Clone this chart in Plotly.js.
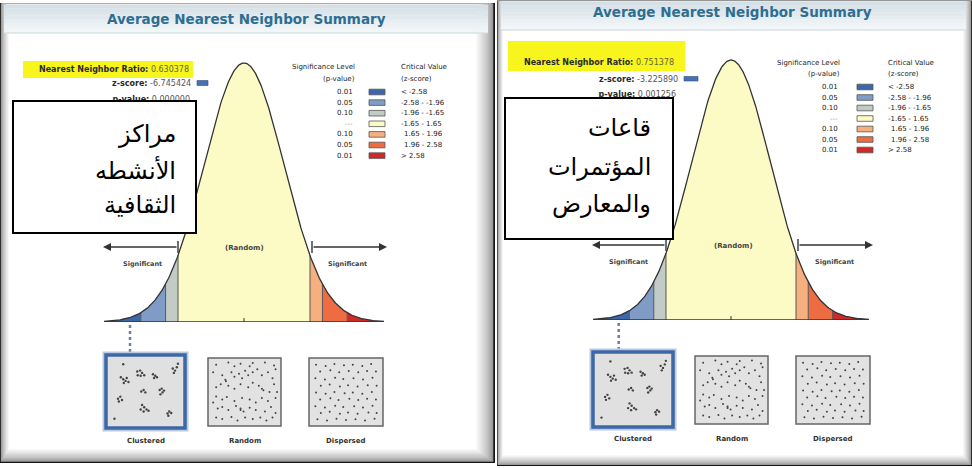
<!DOCTYPE html>
<html><head><meta charset="utf-8">
<script src="https://cdn.plot.ly/plotly-3.0.1.min.js"></script>
<style>html,body{margin:0;padding:0;background:#fff}#chart{width:972px;height:468px}</style>
</head><body><div id="chart"></div>
<script>
// ================= DATA =================
const chartTitle = 'Average Nearest Neighbor Summary';
const panelNames = [['مراكز','الأنشطه','الثقافية'], ['قاعات','المؤتمرات','والمعارض']];
const nnRatio = ['0.630378', '0.751378'];
const zScore = ['-6.745424', '-3.225890'];
const pValue = ['0.000000', '0.001256'];
const criticalValues = [-2.58, -1.96, -1.65, 1.65, 1.96, 2.58];
const sigLevels = ['0.01', '0.05', '0.10', '---', '0.10', '0.05', '0.01'];
const zRangeLabels = ['< -2.58', '-2.58 - -1.96', '-1.96 - -1.65', '-1.65 - 1.65', '1.65 - 1.96', '1.96 - 2.58', '> 2.58'];
const patternLabels = ['Clustered', 'Random', 'Dispersed'];
// point-pattern icons (0-100 inside each box)
const clusteredX = [14.3,17.7,21.1,22.8,18.6,25.3, 38,42.2,45.1,38.8,43,48.1, 60.8,64.1,66.7,62.4, 89.5,92.8,91.1,95.4, 43.9,47.3,49.8, 70.5,73.4,74.7,71.7,76.8, 10.1,13.5,16,11.4, 45.1,48.1,51.5,47.3,54.4,43, 81.9,84.4,87.3,83.1, 17.7,97,5];
const clusteredY = [27.3,30.5,33.2,28.6,36.4,35, 18.2,16.8,20.5,24.1,25,24.1, 22.7,25,27.3,28.6, 13.6,16.8,20.5,11.4, 50,47.7,51.4, 47.7,45.5,51.4,54.5,48.6, 61.4,58.2,63.6,65.9, 71.4,75,78.6,81.8,80.5,78.6, 85,81.8,84.1,88.6, 6.8,5.9,93.2];
const randomX = [7.7,25.9,44.1,62.3,80.5,94.1, 16.8,21.4,30.5,35,41.8,46.4,50.9,55.5,62.3,69.1,75.9,85,91.8,96.4, 7.7,14.5,25.9,35,44.1,55.5,62.3,71.4,78.2,87.3,94.1, 7.7,16.8,23.6,35,46.4,57.7,66.8,75.9,85,96.4, 10,16.8,25.9,37.3,44.1,48.6,57.7,66.8,80.5,89.5,96.4, 7.7,16.8,30.5,39.5,50.9,62.3,73.6,82.7,91.8, 3.2,3.2,98.6,35,57.7,22.3,75.9,44.1];
const randomY = [5.9,2.4,4.4,3.4,2.4,7.3, 22.9,30.2,18,25.4,20.5,27.8,15.6,22.9,18,13.2,22.9,18,27.8,13.2, 42.4,37.6,40,44.9,37.6,42.4,35.1,40,47.3,49.8,37.6, 57.1,62,58,64.4,59.5,62,66.8,59.5,64.4,59.5, 76.6,74.1,79,72.7,76.6,81.5,75.6,79,81.5,74.1,83.9, 91.2,93.7,90.2,96.1,91.2,93.7,91.2,96.1,91.2, 18,66.8,49.8,8.3,8.3,32.7,44.9,79];
const dispersedX = [6,20,33,47,60,74,87, 12,27,40,54,68,81,94, 5,19,34,46,61,75,89, 13,26,41,53,67,82,95, 6,20,33,48,60,74,88, 12,27,39,55,68,81,94, 5,19,34,46,62,75,89, 13,26,41,53,67,83,95, 8,22,36,50,64,78,92];
const dispersedY = [6,8,5,7,6,8,5, 17,15,18,16,18,16,17, 28,30,27,29,28,30,27, 40,38,41,39,41,39,40, 51,53,50,52,51,53,50, 62,60,63,61,63,61,62, 73,75,72,74,73,75,72, 84,82,85,83,85,83,84, 94,96,93,95,94,96,93];

// ================= STYLE / GEOMETRY =================
const W = 972, H = 468;
const FONT = 'DejaVu Sans';
const binColors = ['#3d67ac', '#7f9cc7', '#c3cbc6', '#fdfbc5', '#f6b07f', '#ed6c44', '#d02a28'];
const pointerZ = -2.85;
const P = [
  { outer:[0,3,495,463], inner:[9,5,476,449], band:[4,5,488,33], title:[246,19],
    hl:[23,61,193,78], nn:[191,69], z:[193,83], zsw:[197,80.5,208,85.5], p:[190,99.5],
    box:[13,101,196,233], arR:178, arY:[134,170,205],
    legR:357, legL:399, legHY:[67,79], rowY0:92, rowDy:10.6, swX:[369,385],
    cx:244, sig:40, base:322, peak:63,
    arrY:247, arrL:103, arrR:387, sigY:264, sigX:[142,347], rndY:248, rndX:244,
    pboxes:[[106,355,185,428],[208,358,281,426],[309,358,383,426]], labY:441, dotEnd:352 },
  { outer:[497,0.5,972,466], inner:[503,2,963,455], band:[501,2,966,30], title:[732,12],
    hl:[508,41,685,71], nn:[676,62], z:[680,79], zsw:[684,76.5,698,81], p:[676,95],
    box:[505,98,673,239], arR:653, arY:[128,167,204],
    legR:842, legL:886, legHY:[63,74], rowY0:87, rowDy:10.5, swX:[857,873],
    cx:731, sig:39.4, base:320, peak:60,
    arrY:245, arrL:592, arrR:873, sigY:262, sigX:[628,834], rndY:246, rndX:733,
    pboxes:[[593,352,673,427],[695,356,768,424],[796,356,870,424]], labY:439, dotEnd:350 }
];

const px = x => x / W, py = y => 1 - y / H;
const shapes = [], annotations = [], traces = [];
function paperRect(x0,y0,x1,y1,fill,line){
  shapes.push({type:'rect',xref:'paper',yref:'paper',x0:px(x0),x1:px(x1),y0:py(y1),y1:py(y0),
    fillcolor:fill,line:line||{width:0},layer:'below'});
}
function pixRect(x0,y0,x1,y1,fill,line,layer){
  shapes.push({type:'rect',xref:'x3',yref:'y3',x0:x0,x1:x1,y0:y0,y1:y1,
    fillcolor:fill,line:line||{width:0},layer:layer||'below'});
}
function pixLine(x0,y0,x1,y1,color,width,dash){
  shapes.push({type:'line',xref:'x3',yref:'y3',x0:x0,x1:x1,y0:y0,y1:y1,line:{color:color,width:width,dash:dash||'solid'},layer:'above'});
}
function txt(x,y,text,size,opts){
  annotations.push(Object.assign({xref:'x3',yref:'y3',x:x,y:y,text:text,showarrow:false,
    font:{family:FONT,size:size,color:'#333'},xanchor:'center',yanchor:'middle'},opts||{}));
}
function lerp(a,b,t){return a+(b-a)*t;}
function hex(c){return [1,3,5].map(i=>parseInt(c.substr(i,2),16));}
function mix(c0,c1,t){const a=hex(c0),b=hex(c1);return 'rgb('+a.map((v,i)=>Math.round(lerp(v,b[i],t))).join(',')+')';}

function pdf(z){return Math.exp(-z*z/2)/Math.sqrt(2*Math.PI);}
const bounds = [-3.5, ...criticalValues, 3.5];
function samples(lo,hi){const n=Math.max(2,Math.ceil((hi-lo)/0.02));const a=[];for(let i=0;i<=n;i++)a.push(lo+(hi-lo)*i/n);return a;}

const layout = {
  width: W, height: H, margin:{l:0,r:0,t:0,b:0}, paper_bgcolor:'#ffffff', plot_bgcolor:'rgba(0,0,0,0)',
  showlegend:false, hovermode:false,
  xaxis3:{domain:[0,1],range:[0,W],visible:false,fixedrange:true,anchor:'y3'},
  yaxis3:{domain:[0,1],range:[H,0],visible:false,fixedrange:true,anchor:'x3'}
};

P.forEach((g, k) => {
  const xa = k === 0 ? 'x' : 'x2', ya = k === 0 ? 'y' : 'y2';
  const xKey = k === 0 ? 'xaxis' : 'xaxis2', yKey = k === 0 ? 'yaxis' : 'yaxis2';
  // ----- frame (nested bevel) -----
  const steps = 12;
  for (let i = 0; i < steps; i++) {
    const t = i / (steps - 1);
    const c = i === 0 ? '#151515' : mix('#7a7a7a', '#ffffff', Math.pow(t, 0.6));
    paperRect(lerp(g.outer[0],g.inner[0],t), lerp(g.outer[1],g.inner[1],t),
              lerp(g.outer[2],g.inner[2],t), lerp(g.outer[3],g.inner[3],t), c);
  }
  // title band
  const bs = 8;
  for (let i = 0; i < bs; i++) {
    const y0 = lerp(g.band[1], g.band[3], i / bs), y1 = lerp(g.band[1], g.band[3], (i + 1) / bs);
    paperRect(g.band[0], y0, g.band[2], y1 + 0.3, mix('#d5e0e6', '#f2f6f8', i / (bs - 1)));
  }
  paperRect(g.band[0], g.band[3] - 0.6, g.band[2], g.band[3] + 0.6, '#c9d5db');
  txt(g.title[0], g.title[1], '<b>' + chartTitle + '</b>', 13.5, {font:{family:FONT,size:13.5,color:'#2d6e91'}});

  // ----- summary text -----
  pixRect(g.hl[0], g.hl[1], g.hl[2], g.hl[3], '#f7f51c');
  txt(g.nn[0], g.nn[1], '<b>Nearest Neighbor Ratio:</b> <span style="color:#66663a">' + nnRatio[k] + '</span>', 8,
      {xanchor:'right', font:{family:FONT,size:8,color:'#2a2a2a'}});
  txt(g.z[0], g.z[1], '<b>z-score:</b> <span style="color:#555">' + zScore[k] + '</span>', 8,
      {xanchor:'right', font:{family:FONT,size:8,color:'#2a2a2a'}});
  pixRect(g.zsw[0], g.zsw[1], g.zsw[2], g.zsw[3], '#4a6fb3', {color:'#2f4f86', width:0.6});
  traces.push({type:'scatter', mode:'text', x:[g.p[0]], y:[g.p[1]], xaxis:'x3', yaxis:'y3',
    text:['<b>p-value:</b> <span style="color:#555">' + pValue[k] + '</span>'], textposition:'middle left',
    textfont:{family:FONT,size:8,color:'#2a2a2a'}, hoverinfo:'skip'});

  // ----- legend -----
  const lf = {family:FONT,size:7,color:'#222'};
  txt(g.legR, g.legHY[0], 'Significance Level', 7, {xanchor:'right', font:lf});
  txt(g.legR, g.legHY[1], '(p-value)', 7, {xanchor:'right', font:lf});
  txt(g.legL, g.legHY[0], 'Critical Value', 7, {xanchor:'left', font:lf});
  txt(g.legL, g.legHY[1], '(z-score)', 7, {xanchor:'left', font:lf});
  sigLevels.forEach((s, i) => {
    const y = g.rowY0 + i * g.rowDy;
    txt(g.legR - 2, y, s, 7, {xanchor:'right', font:{family:FONT,size:7,color: s === '---' ? '#999' : '#222'}});
    pixRect(g.swX[0], y - 2.8, g.swX[1], y + 2.8, binColors[i], {color:'#555', width:0.8});
    const c0 = zRangeLabels[i].charAt(0);
    const pos = c0 !== '-' && c0 !== '<' && c0 !== '>';
    txt(g.legL + (pos ? 3 : 0), y, zRangeLabels[i], 7, {xanchor:'left', font:lf});
  });

  // ----- bell curve -----
  const zr = 3.6, ymax = 0.42;
  const top = g.base - (g.base - g.peak) * ymax / pdf(0);
  layout[xKey] = {domain:[px(g.cx - zr * g.sig), px(g.cx + zr * g.sig)], range:[-zr, zr], visible:false, fixedrange:true, anchor:ya};
  layout[yKey] = {domain:[py(g.base), py(top)], range:[0, ymax], visible:false, fixedrange:true, anchor:xa};
  for (let i = 0; i < bounds.length - 1; i++) {
    const xs = samples(bounds[i], bounds[i + 1]);
    traces.push({type:'scatter', mode:'lines', x:xs, y:xs.map(pdf), xaxis:xa, yaxis:ya,
      fill:'tozeroy', fillcolor:binColors[i], line:{width:0, color:binColors[i]}, hoverinfo:'skip'});
  }
  const sx = [], sy = [];
  criticalValues.forEach(c => { sx.push(c, c, null); sy.push(0, pdf(c), null); });
  traces.push({type:'scatter', mode:'lines', x:sx, y:sy, xaxis:xa, yaxis:ya, line:{color:'#555', width:1}, hoverinfo:'skip'});
  const all = samples(-3.5, 3.5);
  traces.push({type:'scatter', mode:'lines', x:all, y:all.map(pdf), xaxis:xa, yaxis:ya, line:{color:'#333', width:1.3}, hoverinfo:'skip'});
  shapes.push({type:'line', xref:xa, yref:ya, x0:-3.5, x1:3.5, y0:0, y1:0, line:{color:'#333', width:1.6}, layer:'above'});
  shapes.push({type:'line', xref:xa, yref:ya, x0:0, x1:0, y0:0, y1:0.006, line:{color:'#333', width:1}, layer:'above'});
  // pointer to clustered pattern
  shapes.push({type:'line', xref:xa, yref:'paper', x0:pointerZ, x1:pointerZ, y0:py(g.dotEnd), y1:py(g.base + 2),
    line:{color:'#6b7fa3', width:2.5, dash:'dot'}, layer:'below'});

  // arrows and labels
  const zl = g.cx + criticalValues[2] * g.sig, zrr = g.cx + criticalValues[3] * g.sig;
  annotations.push({xref:'x3', yref:'y3', axref:'x3', ayref:'y3', x:g.arrL, y:g.arrY, ax:zl, ay:g.arrY, text:'',
    showarrow:true, arrowhead:2, arrowsize:1, arrowwidth:1.6, arrowcolor:'#333'});
  annotations.push({xref:'x3', yref:'y3', axref:'x3', ayref:'y3', x:g.arrR, y:g.arrY, ax:zrr + 2, ay:g.arrY, text:'',
    showarrow:true, arrowhead:2, arrowsize:1, arrowwidth:1.6, arrowcolor:'#333'});
  pixLine(zl, g.arrY - 6, zl, g.arrY + 6, '#333', 1.4);
  pixLine(zrr + 2, g.arrY - 6, zrr + 2, g.arrY + 6, '#333', 1.4);
  txt(g.sigX[0], g.sigY, '<b>Significant</b>', 6.5, {font:{family:FONT,size:6.5,color:'#444'}});
  txt(g.sigX[1], g.sigY, '<b>Significant</b>', 6.5, {font:{family:FONT,size:6.5,color:'#444'}});
  txt(g.rndX, g.rndY, '<b>(Random)</b>', 7, {font:{family:FONT,size:7,color:'#444'}});

  // ----- pattern boxes -----
  const pats = [[clusteredX, clusteredY], [randomX, randomY], [dispersedX, dispersedY]];
  g.pboxes.forEach((b, i) => {
    if (i === 0) {
      pixRect(b[0] - 1.5, b[1] - 1.5, b[2] + 1.5, b[3] + 1.5, 'rgba(0,0,0,0)', {color:'#b9c9e0', width:4});
      pixRect(b[0], b[1], b[2], b[3], '#e0e0e0', {color:'#3e67a6', width:3.5});
    } else {
      pixRect(b[0], b[1], b[2], b[3], '#e2e2e2', {color:'#666', width:1.5});
    }
    const pad = i === 0 ? 5 : 3;
    const [ux, uy] = pats[i];
    traces.push({type:'scatter', mode:'markers', xaxis:'x3', yaxis:'y3', hoverinfo:'skip',
      x:ux.map(u => b[0] + pad + u / 100 * (b[2] - b[0] - 2 * pad)),
      y:uy.map(v => b[1] + pad + v / 100 * (b[3] - b[1] - 2 * pad)),
      marker:{size: i === 0 ? 2.4 : 2, color:'#444', symbol:'circle'}});
    txt((b[0] + b[2]) / 2, g.labY, '<b>' + patternLabels[i] + '</b>', 7, {font:{family:FONT,size:7,color:'#333'}});
  });

  // ----- Arabic label box -----
  pixRect(g.box[0], g.box[1], g.box[2], g.box[3], '#ffffff', {color:'#000', width:2}, 'above');
  panelNames[k].forEach((line, i) => {
    txt(g.arR, g.arY[i], line, 24, {xanchor:'right', font:{family:FONT,size:24,color:'#000'}});
  });
});

layout.shapes = shapes;
layout.annotations = annotations;
Plotly.newPlot('chart', traces, layout, {staticPlot:true, displayModeBar:false});
</script>
</body></html>
